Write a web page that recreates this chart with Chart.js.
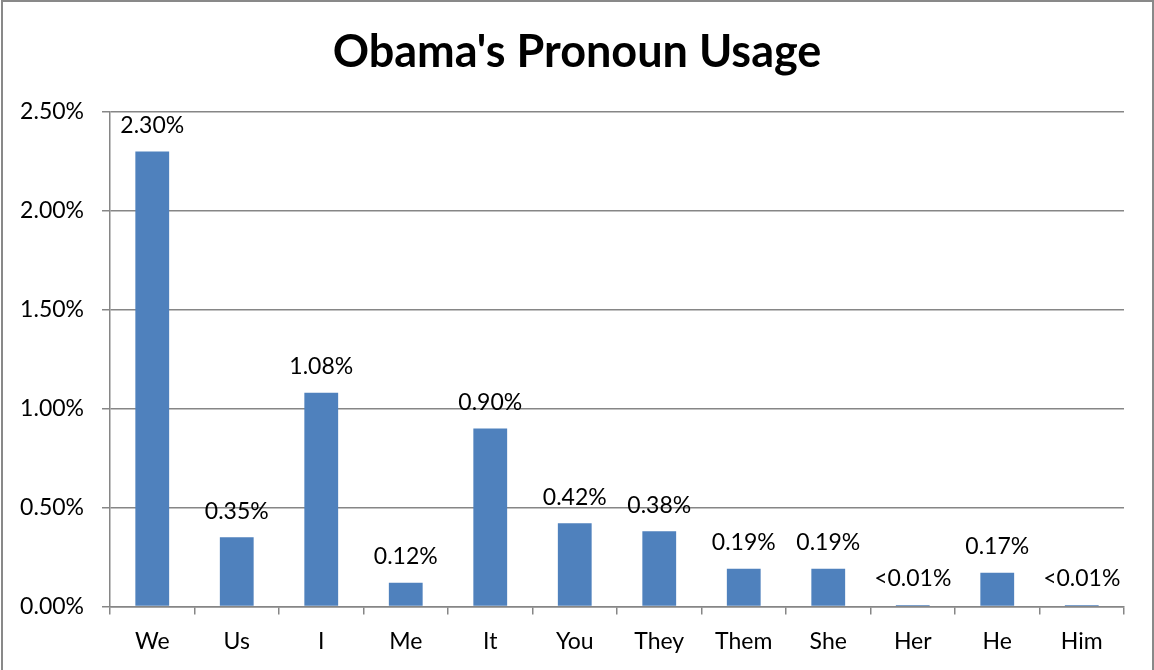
<!DOCTYPE html>
<html lang="en">
<head>
    <meta charset="UTF-8">
    <script src="https://cdn.jsdelivr.net/npm/chart.js"></script>
    <title>Obama's Pronoun Usage</title>
    <style>
        body { margin: 0; background: #fff; }
        #wrap { width: 1154px; height: 670px; }
    </style>
</head>
<body>
    <div id="wrap"><canvas id="myChart"></canvas></div>
    <script>
    // values in percent
    const pronouns = ['We', 'Us', 'I', 'Me', 'It', 'You', 'They', 'Them', 'She', 'Her', 'He', 'Him'];
    const usage = [2.30, 0.35, 1.08, 0.12, 0.90, 0.42, 0.38, 0.19, 0.19, 0.007, 0.17, 0.007];
    const usageLabels = ['2.30%', '0.35%', '1.08%', '0.12%', '0.90%', '0.42%', '0.38%', '0.19%', '0.19%', '<0.01%', '0.17%', '<0.01%'];
    const yTicks = [0, 0.5, 1.0, 1.5, 2.0, 2.5];

    const gridColor = '#868686';
    const fontName = 'Lato, "Open Sans", sans-serif';

    // frame around the whole chart
    const frame = {
        id: 'frame',
        beforeDraw(chart) {
            const c = chart.ctx;
            c.save();
            c.strokeStyle = '#898989';
            c.lineWidth = 2;
            c.strokeRect(2, 1, chart.width - 3, chart.height + 10);
            c.restore();
        }
    };

    // value labels above bars
    const barLabels = {
        id: 'barLabels',
        afterDatasetsDraw(chart) {
            const c = chart.ctx;
            const meta = chart.getDatasetMeta(0);
            c.save();
            c.font = '23px ' + fontName;
            c.fillStyle = '#000';
            c.textAlign = 'center';
            c.textBaseline = 'middle';
            meta.data.forEach((bar, i) => {
                c.fillText(usageLabels[i], bar.x, bar.y - 26);
            });
            c.restore();
        }
    };

    const ctx = document.getElementById('myChart').getContext('2d');
    const myChart = new Chart(ctx, {
        type: 'bar',
        data: {
            labels: pronouns,
            datasets: [{
                data: usage,
                backgroundColor: '#4F81BD',
                borderWidth: 0,
                barPercentage: 0.4,
                categoryPercentage: 1.0
            }]
        },
        options: {
            responsive: true,
            maintainAspectRatio: false,
            animation: false,
            layout: { padding: { top: 0, left: 2, right: 2, bottom: 2 } },
            plugins: {
                legend: { display: false },
                tooltip: { enabled: false },
                title: {
                    display: true,
                    text: "Obama's Pronoun Usage",
                    color: '#000',
                    font: { family: fontName, size: 45, weight: 'bold' },
                    padding: { top: 25, bottom: 33 }
                }
            },
            scales: {
                x: {
                    grid: {
                        display: true,
                        drawOnChartArea: false,
                        drawTicks: true,
                        tickLength: 8,
                        offset: true,
                        color: gridColor,
                        lineWidth: 1.5
                    },
                    border: { color: gridColor, width: 1.5 },
                    ticks: {
                        color: '#000',
                        padding: 13,
                        font: { family: fontName, size: 23 }
                    }
                },
                y: {
                    min: 0,
                    max: 2.5,
                    afterFit(scale) { scale.width = 108; },
                    afterBuildTicks(scale) { scale.ticks = yTicks.map(v => ({ value: v })); },
                    grid: {
                        color: gridColor,
                        lineWidth: 1.5,
                        tickLength: 8
                    },
                    border: { color: gridColor, width: 1.5 },
                    ticks: {
                        color: '#000',
                        padding: 18,
                        font: { family: fontName, size: 23 },
                        callback: v => v.toFixed(2) + '%'
                    }
                },
                // empty right axis, only keeps the blank margin on the right
                yRight: {
                    position: 'right',
                    min: 0,
                    max: 2.5,
                    afterFit(scale) { scale.width = 28; },
                    grid: { display: false },
                    border: { display: false },
                    ticks: { display: false }
                }
            }
        },
        plugins: [frame, barLabels]
    });
    </script>
</body>
</html>
